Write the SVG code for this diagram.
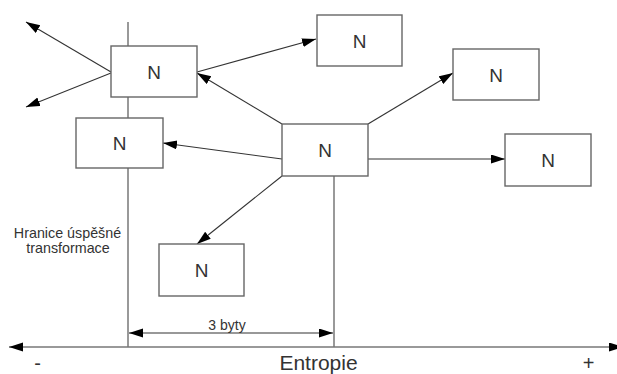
<svg xmlns="http://www.w3.org/2000/svg" width="617" height="374" viewBox="0 0 617 374">
<style>
.box{fill:#fff;stroke:#666;stroke-width:1.4}
.lbl{font-family:"Liberation Sans",Arial,sans-serif;font-size:19px;fill:#333;text-anchor:middle}
.txt{font-family:"Liberation Sans",Arial,sans-serif;fill:#333;text-anchor:middle}
.con{stroke:#333;stroke-width:1.1;fill:none}
.axis{stroke:#777;stroke-width:1.5;fill:none}
</style>
<defs>
<marker id="ah" markerUnits="userSpaceOnUse" markerWidth="15" markerHeight="10" refX="14" refY="4.5" orient="auto-start-reverse">
<path d="M0,0 L14,4.5 L0,9 z" fill="#000"/>
</marker>
</defs>
<rect width="617" height="374" fill="#fff"/>
<g id="guides">
<line class="axis" x1="128" y1="22" x2="128" y2="347"/>
<line class="axis" x1="334" y1="176" x2="334" y2="347"/>
<line class="axis" x1="9" y1="347" x2="623" y2="347" marker-start="url(#ah)" marker-end="url(#ah)"/>
<line class="con" x1="129" y1="333" x2="333" y2="333" marker-start="url(#ah)" marker-end="url(#ah)"/>
</g>
<g id="connectors">
<line class="con" x1="111" y1="72" x2="26" y2="22" marker-end="url(#ah)"/>
<line class="con" x1="111" y1="73" x2="26" y2="107" marker-end="url(#ah)"/>
<line class="con" x1="197" y1="72" x2="316" y2="39" marker-end="url(#ah)"/>
<line class="con" x1="282" y1="124" x2="197" y2="73" marker-end="url(#ah)"/>
<line class="con" x1="282" y1="159" x2="163" y2="143" marker-end="url(#ah)"/>
<line class="con" x1="282" y1="176" x2="197" y2="244" marker-end="url(#ah)"/>
<line class="con" x1="368" y1="124" x2="453" y2="73" marker-end="url(#ah)"/>
<line class="con" x1="368" y1="159" x2="505" y2="159" marker-end="url(#ah)"/>
</g>
<g id="nodeA"><rect class="box" x="111" y="46" width="86" height="51"/><text class="lbl" x="154" y="79">N</text></g>
<g id="nodeB"><rect class="box" x="76" y="118" width="87" height="50"/><text class="lbl" x="119.5" y="150">N</text></g>
<g id="nodeC"><rect class="box" x="282" y="124" width="86" height="52"/><text class="lbl" x="325" y="157">N</text></g>
<g id="nodeD"><rect class="box" x="317" y="15" width="85" height="51"/><text class="lbl" x="359.5" y="48">N</text></g>
<g id="nodeE"><rect class="box" x="453" y="49" width="86" height="51"/><text class="lbl" x="496" y="82">N</text></g>
<g id="nodeF"><rect class="box" x="505" y="134" width="86" height="52"/><text class="lbl" x="548" y="167">N</text></g>
<g id="nodeG"><rect class="box" x="159" y="244" width="85" height="52"/><text class="lbl" x="201.5" y="277">N</text></g>
<g id="labels">
<text class="txt" x="67.5" y="238" font-size="14.3">Hranice úspěšné</text>
<text class="txt" x="68" y="253" font-size="14.3">transformace</text>
<text class="txt" x="227" y="330" font-size="14">3 byty</text>
<text class="txt" x="37.5" y="370" font-size="20">-</text>
<text class="txt" x="318.5" y="370" font-size="21">Entropie</text>
<text class="txt" x="588.5" y="370" font-size="20">+</text>
</g>
</svg>
